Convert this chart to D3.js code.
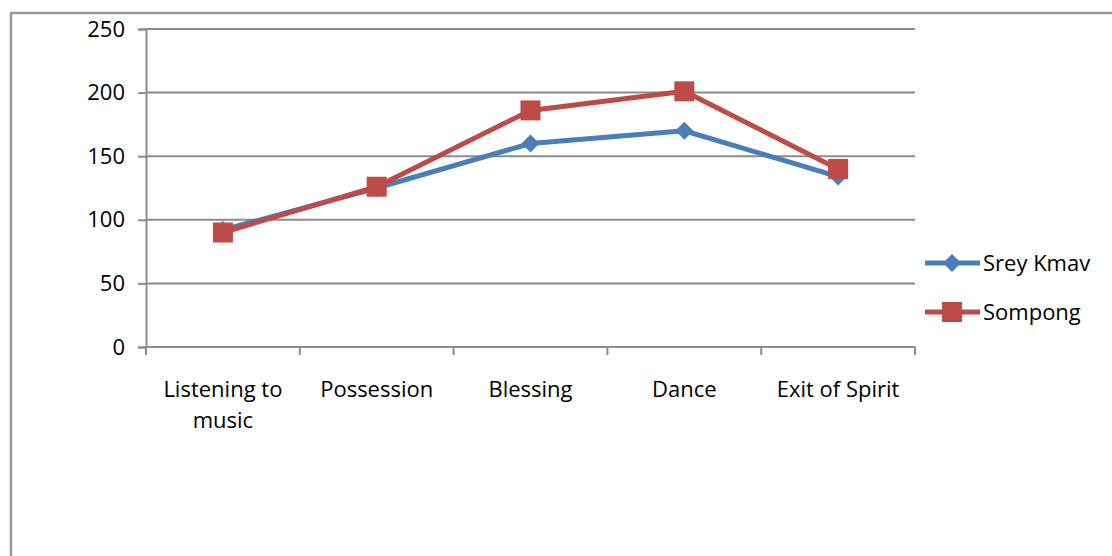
<!DOCTYPE html>
<html>
<head>
<meta charset="utf-8">
<script src="https://cdn.jsdelivr.net/npm/d3@7"></script>
<style>
  body { margin: 0; background: #fff; }
  svg { display: block; font-family: "Open Sans", sans-serif; }
</style>
</head>
<body>
<div id="chart"></div>
<script>
// data
var categories = [["Listening to", "music"], ["Possession"], ["Blessing"], ["Dance"], ["Exit of Spirit"]];
var sreyKmav = [92, 125, 160, 170, 134];
var sompong = [90, 126, 186, 201, 140];
var yTicks = [0, 50, 100, 150, 200, 250];
var seriesNames = ["Srey Kmav", "Sompong"];

var width = 1112, height = 556;
var plotLeft = 146, plotRight = 915, plotTop = 29, plotBottom = 347;

var svg = d3.select("#chart").append("svg")
    .attr("width", width)
    .attr("height", height);

// outer frame (top + left edges visible)
svg.append("path")
    .attr("d", "M11,560 L11,13 L1115,13")
    .style("fill", "none")
    .style("stroke", "#9a9a9a")
    .style("stroke-width", 2.5);

var xScale = d3.scaleBand().domain(d3.range(categories.length)).range([plotLeft, plotRight]);
var yScale = d3.scaleLinear().domain([0, 250]).range([plotBottom, plotTop]);

// gridlines
svg.append("g").selectAll("line")
    .data(yTicks.slice(1))
    .join("line")
    .attr("x1", plotLeft).attr("x2", plotRight)
    .attr("y1", d => yScale(d)).attr("y2", d => yScale(d))
    .style("stroke", "#8c8c8c")
    .style("stroke-width", 2);

var yAxis = d3.axisLeft(yScale).tickValues(yTicks).tickSize(8).tickPadding(13);
var yG = svg.append("g").attr("transform", `translate(${plotLeft},0)`).call(yAxis);
yG.select(".domain").attr("stroke", "#8c8c8c").attr("stroke-width", 2);
yG.selectAll(".tick line").attr("stroke", "#8c8c8c").attr("stroke-width", 2);
yG.selectAll("text").style("font-size", "22px").style("fill", "#000").style("font-family", "Open Sans");

// x axis with boundary ticks
var xG = svg.append("g").attr("transform", `translate(0,${plotBottom})`);
xG.append("line").attr("x1", plotLeft).attr("x2", plotRight)
    .style("stroke", "#8c8c8c").style("stroke-width", 2);
var bounds = d3.range(categories.length + 1).map(i => i < categories.length ? xScale(i) : plotRight);
xG.selectAll(".bt").data(bounds).join("line")
    .attr("class", "bt")
    .attr("x1", d => d).attr("x2", d => d)
    .attr("y1", 0).attr("y2", 8)
    .style("stroke", "#8c8c8c").style("stroke-width", 2);

var labels = xG.selectAll(".lab").data(categories).join("text")
    .attr("class", "lab")
    .attr("x", (d, i) => xScale(i) + xScale.bandwidth() / 2)
    .attr("y", 50)
    .attr("text-anchor", "middle")
    .style("font-size", "22px");
labels.selectAll("tspan").data(d => d).join("tspan")
    .attr("x", function () { return d3.select(this.parentNode).attr("x"); })
    .attr("dy", (d, i) => i === 0 ? 0 : 31)
    .text(d => d);

var cx = i => xScale(i) + xScale.bandwidth() / 2;
var line = d3.line().x((d, i) => cx(i)).y(d => yScale(d));

var blue = "#4a7ebb", red = "#be4b48";

function diamond(g, x, y, r) {
    g.append("path")
        .attr("d", `M${x},${y - r}L${x + r},${y}L${x},${y + r}L${x - r},${y}Z`)
        .style("fill", blue);
}
function square(g, x, y, s) {
    g.append("rect")
        .attr("x", x - s / 2).attr("y", y - s / 2)
        .attr("width", s).attr("height", s)
        .style("fill", red);
}

var blueG = svg.append("g");
blueG.append("path").datum(sreyKmav).attr("d", line)
    .style("fill", "none").style("stroke", blue).style("stroke-width", 5).style("stroke-linejoin", "round");
sreyKmav.forEach((v, i) => diamond(blueG, cx(i), yScale(v), 9));

var redG = svg.append("g");
redG.append("path").datum(sompong).attr("d", line)
    .style("fill", "none").style("stroke", red).style("stroke-width", 5).style("stroke-linejoin", "round");
sompong.forEach((v, i) => square(redG, cx(i), yScale(v), 20));

// legend
var legend = svg.append("g");
var legY = [263, 312];
seriesNames.forEach((name, i) => {
    var col = i === 0 ? blue : red;
    legend.append("line").attr("x1", 925).attr("x2", 980)
        .attr("y1", legY[i]).attr("y2", legY[i])
        .style("stroke", col).style("stroke-width", 5);
    if (i === 0) diamond(legend, 952, legY[i], 9);
    else square(legend, 952, legY[i], 20);
    legend.append("text").attr("x", 983).attr("y", legY[i] + 8)
        .style("font-size", "22px").text(name);
});
</script>
</body>
</html>
